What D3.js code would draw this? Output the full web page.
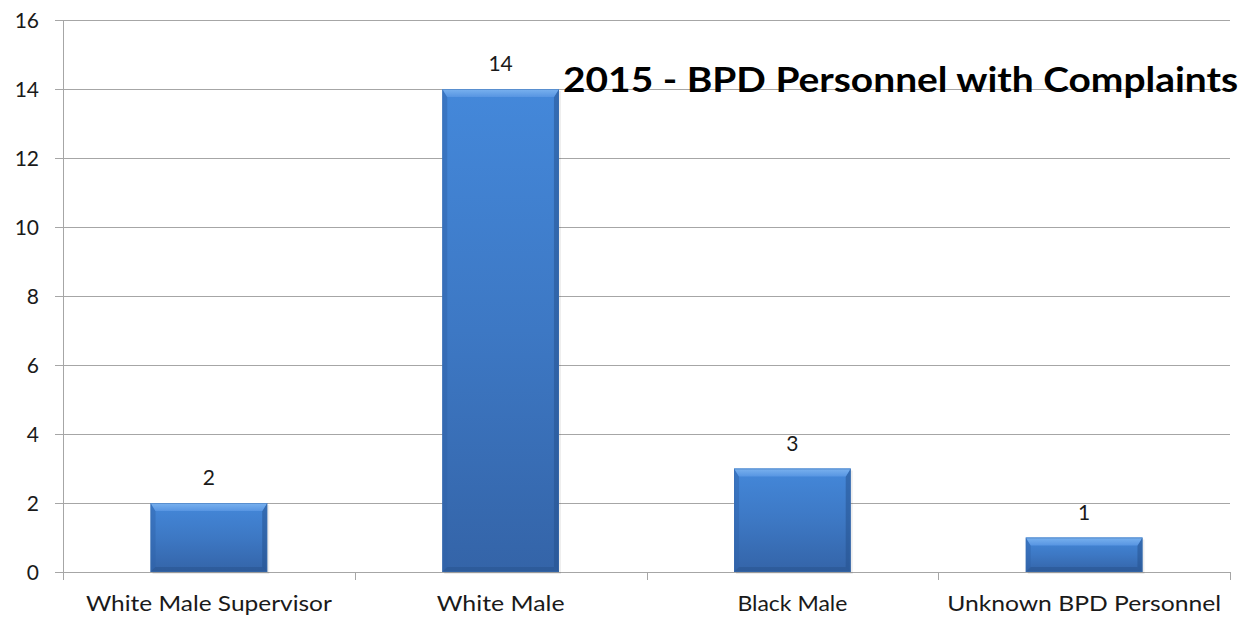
<!DOCTYPE html>
<html><head><meta charset="utf-8">
<script src="https://cdn.jsdelivr.net/npm/d3@7"></script>
<style>body{margin:0;background:#fff;overflow:hidden;}svg{display:block;}</style>
</head><body>
<svg id="c" width="1255" height="617"></svg>
<script>
const categories = ["White Male Supervisor", "White Male", "Black Male", "Unknown BPD Personnel"];
const values = [2, 14, 3, 1];
const yTicks = [0, 2, 4, 6, 8, 10, 12, 14, 16];
const title = "2015 - BPD Personnel with Complaints";

(function(){
const svg = d3.select("#c");
const pLeft = 63, pRight = 1230, pTop = 20, pBottom = 572;
const font = "Lato, 'Open Sans', sans-serif";

const y = d3.scaleLinear().domain([0, 16]).range([pBottom, pTop]);
const xCat = d3.scaleBand().domain(categories).range([pLeft, pRight]).padding(0);
const xBar = d3.scaleBand().domain(categories).range([pLeft, pRight]).paddingInner(0.6).paddingOuter(0.3);

const defs = svg.append("defs");
const gf = defs.append("linearGradient").attr("id","face").attr("x1","0").attr("x2","0").attr("y1","0").attr("y2","1");
gf.append("stop").attr("offset","0").attr("stop-color","#4488da");
gf.append("stop").attr("offset","0.5").attr("stop-color","#3d78c4");
gf.append("stop").attr("offset","1").attr("stop-color","#3464a8");
const gt = defs.append("linearGradient").attr("id","topb").attr("x1","0").attr("x2","0").attr("y1","0").attr("y2","1");
gt.append("stop").attr("offset","0").attr("stop-color","#7ab2ef");
gt.append("stop").attr("offset","1").attr("stop-color","#5795e2");

svg.append("g").selectAll("line").data(yTicks).join("line")
  .attr("x1", pLeft - 8).attr("x2", pRight)
  .attr("y1", d => Math.round(y(d)) + 0.5).attr("y2", d => Math.round(y(d)) + 0.5)
  .attr("stroke", "#a6a6a6").attr("stroke-width", 1);

svg.append("line").attr("x1", pLeft + 0.5).attr("x2", pLeft + 0.5).attr("y1", pTop).attr("y2", pBottom)
  .attr("stroke", "#a6a6a6");

const bounds = categories.map(c => xCat(c)).concat([pRight]);
svg.append("g").selectAll("line").data(bounds).join("line")
  .attr("x1", d => Math.round(d) + 0.5).attr("x2", d => Math.round(d) + 0.5)
  .attr("y1", pBottom).attr("y2", pBottom + 8)
  .attr("stroke", "#a6a6a6");

svg.append("g").selectAll("text").data(yTicks).join("text")
  .attr("x", 39).attr("y", d => y(d)).attr("dy", "0.36em")
  .attr("text-anchor", "end").attr("font-family", font).attr("font-size", 21).attr("fill", "#1a1a1a")
  .text(d => d);

const bars = svg.append("g").selectAll("g").data(values.map((v,i)=>({v, c: categories[i]}))).join("g");
bars.each(function(d){
  const g = d3.select(this);
  const x0 = xBar(d.c), w = xBar.bandwidth();
  const y0 = y(d.v), y1 = y(0), h = y1 - y0;
  const bt = 8, bs = 5, bb = 5;
  // soft shadow
  g.append("rect").attr("x", x0+2).attr("y", y0+2).attr("width", w).attr("height", h).attr("fill", "#000").attr("opacity", 0.07);
  g.append("rect").attr("x", x0).attr("y", y0).attr("width", w).attr("height", h).attr("fill", "url(#face)");
  // side bevels
  g.append("polygon").attr("points", [[x0,y0],[x0+bs,y0+bt],[x0+bs,y1-bb],[x0,y1]].join(" ")).attr("fill", "#2f62a8").attr("opacity", 0.45);
  g.append("polygon").attr("points", [[x0+w,y0],[x0+w-bs,y0+bt],[x0+w-bs,y1-bb],[x0+w,y1]].join(" ")).attr("fill", "#244f8c").attr("opacity", 0.5);
  // bottom bevel
  g.append("polygon").attr("points", [[x0,y1],[x0+bs,y1-bb],[x0+w-bs,y1-bb],[x0+w,y1]].join(" ")).attr("fill", "#254f8a").attr("opacity", 0.45);
  // top bevel
  g.append("polygon").attr("points", [[x0,y0],[x0+w,y0],[x0+w-bs,y0+bt],[x0+bs,y0+bt]].join(" ")).attr("fill", "url(#topb)");
  g.append("rect").attr("x", x0+0.5).attr("y", y0+0.5).attr("width", w-1).attr("height", h-1).attr("fill","none").attr("stroke","#3a6db0").attr("stroke-width",1).attr("opacity",0.5);
  g.append("text").attr("x", x0 + w/2).attr("y", y0 - 18)
    .attr("text-anchor", "middle").attr("font-family", font).attr("font-size", 21).attr("fill", "#1a1a1a")
    .text(d.v);
});

svg.append("g").selectAll("text").data(categories).join("text")
  .attr("x", d => xCat(d) + xCat.bandwidth()/2).attr("y", 611)
  .attr("text-anchor", "middle").attr("font-family", font).attr("font-size", 21).attr("fill", "#1a1a1a")
  .text(d => d)
  .each(function(d, i){
    const target = [246, 128, 110, 274][i];
    const cw = this.getComputedTextLength();
    if (Math.abs(cw - target) / target > 0.04) d3.select(this).attr("textLength", target).attr("lengthAdjust", "spacingAndGlyphs");
  });

svg.append("text").attr("x", 563).attr("y", 92)
  .attr("font-family", font).attr("font-weight", "bold").attr("font-size", 35).attr("fill", "#000")
  .attr("textLength", 675).attr("lengthAdjust", "spacingAndGlyphs")
  .text(title);
})();
</script>
</body></html>
